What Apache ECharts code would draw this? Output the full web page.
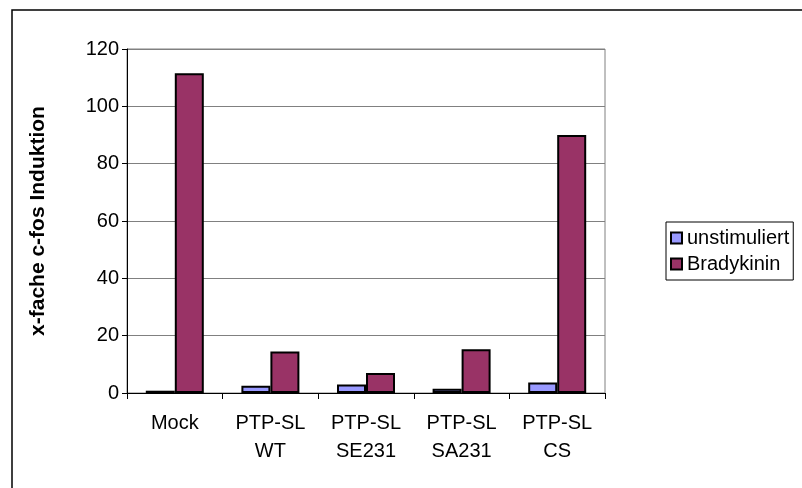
<!DOCTYPE html>
<html>
<head>
<meta charset="utf-8">
<script src="https://cdn.jsdelivr.net/npm/echarts@6/dist/echarts.min.js"></script>
<style>
  html, body { margin: 0; padding: 0; background: #fff; }
  #chart { width: 802px; height: 488px; }
</style>
</head>
<body>
<div id="chart"></div>
<script>
// Categories (constructs) and measured fold induction of c-fos
const categories = ['Mock', 'PTP-SL\nWT', 'PTP-SL\nSE231', 'PTP-SL\nSA231', 'PTP-SL\nCS'];
const unstimuliert = [0.8, 2.5, 3.0, 1.5, 3.7];
const bradykinin = [111.5, 14.5, 7.0, 15.3, 90.0];
const yTicks = { min: 0, max: 120, interval: 20 };

const font = 'Liberation Sans, Arial, sans-serif';
const chart = echarts.init(document.getElementById('chart'), null, { renderer: 'canvas' });

chart.setOption({
  animation: false,
  backgroundColor: '#ffffff',
  textStyle: { fontFamily: font },
  graphic: [{
    type: 'rect',
    shape: { x: 12, y: 10, width: 900, height: 600 },
    style: { fill: 'none', stroke: '#000', lineWidth: 1.5 },
    silent: true,
    z: -1
  }],
  grid: { left: 127, top: 49, width: 478, height: 344, show: true, borderColor: '#808080', borderWidth: 1, containLabel: false },
  legend: {
    orient: 'vertical',
    left: 666,
    top: 222,
    itemWidth: 11,
    itemHeight: 11,
    itemGap: 6,
    padding: [6, 4, 6, 4],
    borderColor: '#000',
    borderWidth: 1,
    icon: 'rect',
    textStyle: { fontFamily: font, fontSize: 20, color: '#000' },
    data: ['unstimuliert', 'Bradykinin']
  },
  xAxis: {
    type: 'category',
    data: categories,
    axisLine: { lineStyle: { color: '#000', width: 1 } },
    axisTick: { show: true, length: 6, lineStyle: { color: '#000' } },
    axisLabel: { color: '#000', fontSize: 20, fontFamily: font, margin: 16, lineHeight: 28 },
    splitLine: { show: false }
  },
  yAxis: {
    type: 'value',
    min: yTicks.min,
    max: yTicks.max,
    interval: yTicks.interval,
    name: 'x-fache c-fos Induktion',
    nameLocation: 'middle',
    nameGap: 78,
    nameRotate: 90,
    nameTextStyle: { color: '#000', fontSize: 21, fontWeight: 'bold', fontFamily: font },
    axisLine: { show: true, lineStyle: { color: '#000', width: 1 } },
    axisTick: { show: true, length: 5, lineStyle: { color: '#000' } },
    axisLabel: { color: '#000', fontSize: 20, fontFamily: font, margin: 8 },
    splitLine: { show: true, lineStyle: { color: '#808080', width: 1 } }
  },
  series: [
    {
      name: 'unstimuliert',
      type: 'bar',
      data: unstimuliert,
      barWidth: 29,
      barGap: '0%',
      itemStyle: { color: '#9999FF', borderColor: '#000', borderWidth: 2 }
    },
    {
      name: 'Bradykinin',
      type: 'bar',
      data: bradykinin,
      barWidth: 29,
      barGap: '0%',
      itemStyle: { color: '#993366', borderColor: '#000', borderWidth: 2 }
    }
  ]
});
</script>
</body>
</html>
